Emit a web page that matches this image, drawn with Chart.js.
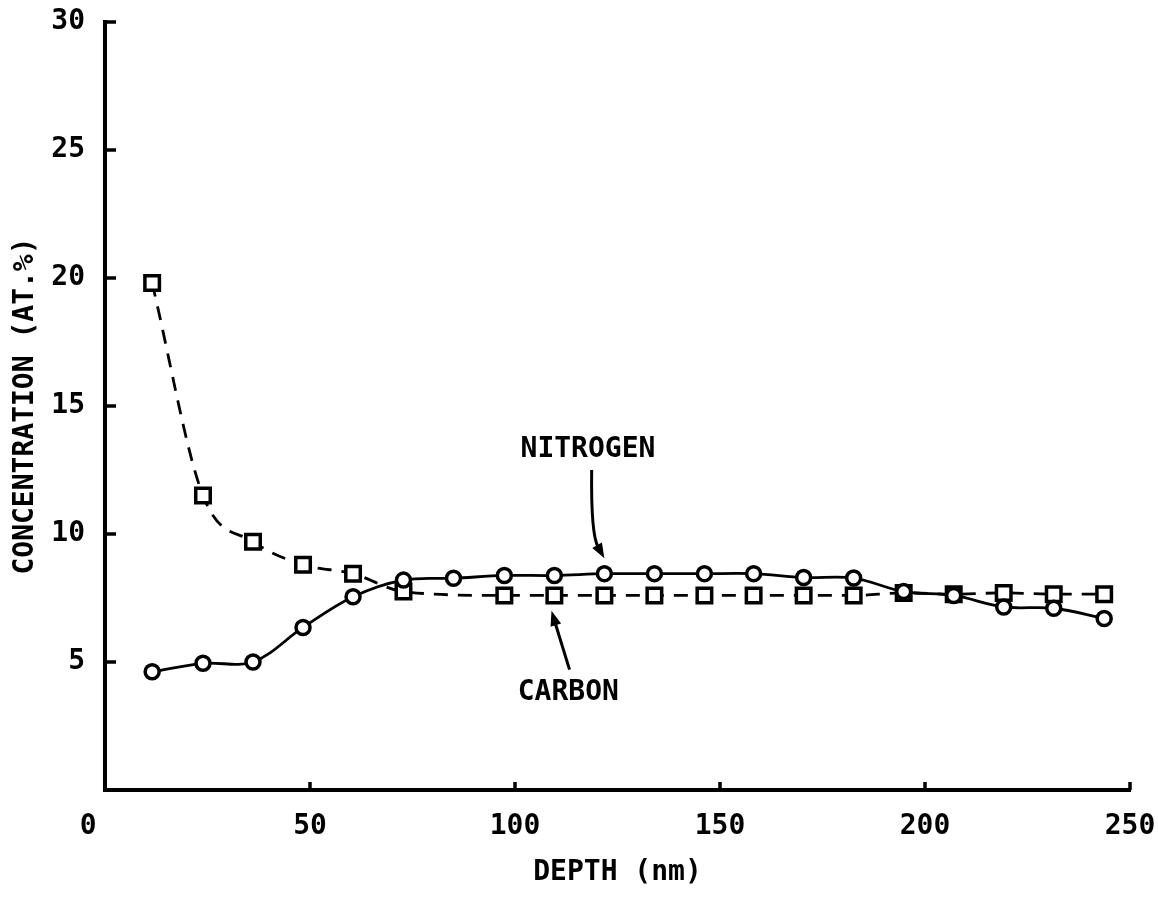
<!DOCTYPE html>
<html>
<head>
<meta charset="utf-8">
<title>Concentration vs depth</title>
<script src="https://cdn.jsdelivr.net/npm/chart.js@4.4.1/dist/chart.umd.min.js"></script>
<style>
  html, body { margin: 0; padding: 0; background: #fff; }
  canvas { display: block; }
</style>
</head>
<body>
<canvas id="profile" width="1158" height="911" style="width:1158px;height:911px"></canvas>
<script>
// Depth profile: sputter depth (nm) against atomic concentration (at.%)
const depth    = [11.5, 23.9, 36.1, 48.3, 60.5, 72.8, 85.0, 97.4, 109.6, 121.8,
                  134.0, 146.2, 158.2, 170.4, 182.6, 194.8, 207.0, 219.2, 231.4, 243.7];
const carbon   = [19.8, 11.5, 9.7, 8.8, 8.45, 7.75, null, 7.6, 7.6, 7.6,
                  7.6, 7.6, 7.6, 7.6, 7.6, 7.7, 7.65, 7.7, 7.65, 7.65];
const nitrogen = [4.62, 4.95, 5.0, 6.35, 7.55, 8.2, 8.27, 8.38, 8.38, 8.45,
                  8.45, 8.45, 8.45, 8.3, 8.28, 7.75, 7.6, 7.15, 7.1, 6.7];

const xTicks = [0, 50, 100, 150, 200, 250];
const yTicks = [5, 10, 15, 20, 25, 30];

const xTitle = 'DEPTH (nm)';
const yTitle = 'CONCENTRATION (AT.%)';

// Labelled arrows, placed in data units (depth, at.%)
const callouts = [
  { text: 'NITROGEN', at: [117.8, 13.3], tail: [118.7, 12.5], bend: [118.5, 10.0], tip: [121.8, 9.05] },
  { text: 'CARBON',   at: [113.0, 3.8],  tail: [113.3, 4.7],  bend: [110.8, 6.0],  tip: [108.9, 7.0] }
];

const INK = '#000';
const FONT_FAMILY = '"DejaVu Sans Mono", "Liberation Mono", monospace';
const plotFont = { family: FONT_FAMILY, size: 28, weight: 'bold' };

const toPoints = (ys) => depth.map((d, i) => ({ x: d, y: ys[i] }));

// Short inward tick stubs on both axes
const tickStubs = {
  id: 'tickStubs',
  afterDraw(chart) {
    const { ctx, chartArea, scales: { x, y } } = chart;
    ctx.save();
    ctx.strokeStyle = INK;
    ctx.lineWidth = 3.5;
    ctx.lineCap = 'butt';
    yTicks.forEach(v => {
      const py = y.getPixelForValue(v);
      ctx.beginPath();
      ctx.moveTo(chartArea.left, py);
      ctx.lineTo(chartArea.left + 11, py);
      ctx.stroke();
    });
    xTicks.forEach(v => {
      if (v === 0) return;
      const px = x.getPixelForValue(v);
      ctx.beginPath();
      ctx.moveTo(px, chartArea.bottom);
      ctx.lineTo(px, chartArea.bottom - 8);
      ctx.stroke();
    });
    ctx.restore();
  }
};

// Series names with curved pointer arrows
const calloutLabels = {
  id: 'calloutLabels',
  afterDraw(chart) {
    const { ctx, scales: { x, y } } = chart;
    const P = ([a, b]) => [x.getPixelForValue(a), y.getPixelForValue(b)];
    ctx.save();
    ctx.fillStyle = INK;
    ctx.strokeStyle = INK;
    ctx.font = `bold 28px ${FONT_FAMILY}`;
    ctx.textAlign = 'center';
    ctx.textBaseline = 'middle';
    callouts.forEach(c => {
      const [lx, ly] = P(c.at);
      ctx.fillText(c.text, lx, ly);

      const [tx, ty] = P(c.tail);
      const [bx, by] = P(c.bend);
      const [hx, hy] = P(c.tip);
      let dx = hx - bx, dy = hy - by;
      const len = Math.hypot(dx, dy);
      dx /= len; dy /= len;
      const headLen = 15, headHalf = 5.5;
      const baseX = hx - dx * headLen, baseY = hy - dy * headLen;

      ctx.lineWidth = 3;
      ctx.beginPath();
      ctx.moveTo(tx, ty);
      ctx.quadraticCurveTo(bx, by, baseX + dx * 2, baseY + dy * 2);
      ctx.stroke();

      ctx.beginPath();
      ctx.moveTo(hx, hy);
      ctx.lineTo(baseX - dy * headHalf, baseY + dx * headHalf);
      ctx.lineTo(baseX + dy * headHalf, baseY - dx * headHalf);
      ctx.closePath();
      ctx.fill();
    });
    ctx.restore();
  }
};

new Chart(document.getElementById('profile'), {
  type: 'line',
  data: {
    datasets: [
      {
        label: 'NITROGEN',
        data: toPoints(nitrogen),
        borderColor: INK,
        borderWidth: 2.8,
        tension: 0.35,
        pointStyle: 'circle',
        pointRadius: 7,
        pointBorderWidth: 3.5,
        pointBorderColor: INK,
        pointBackgroundColor: '#fff',
        fill: false
      },
      {
        label: 'CARBON',
        data: toPoints(carbon),
        borderColor: INK,
        borderWidth: 2.8,
        borderDash: [14, 10],
        spanGaps: true,
        cubicInterpolationMode: 'monotone',
        pointStyle: 'rect',
        pointRadius: 10.25,
        pointBorderWidth: 3.5,
        pointBorderColor: INK,
        pointBackgroundColor: '#fff',
        fill: false
      }
    ]
  },
  options: {
    responsive: false,
    animation: false,
    events: [],
    layout: { padding: { left: 0, top: 22, right: 28, bottom: 0 } },
    plugins: {
      legend: { display: false },
      tooltip: { enabled: false }
    },
    scales: {
      x: {
        type: 'linear',
        min: 0,
        max: 250,
        afterBuildTicks: s => { s.ticks = xTicks.map(v => ({ value: v })); },
        afterFit: s => { s.height = 121; s.paddingLeft = 0; s.paddingRight = 0; },
        grid: { display: false, drawTicks: false },
        border: { display: true, color: INK, width: 4 },
        // the origin label sits just left of the corner
        ticks: { color: INK, font: plotFont, padding: 20, maxRotation: 0, autoSkip: false,
                 callback: v => (v === 0 ? '0  ' : String(v)) },
        title: { display: true, text: xTitle, color: INK, font: plotFont, padding: { top: 0, bottom: 21 } }
      },
      y: {
        type: 'linear',
        min: 0,
        max: 30,
        afterBuildTicks: s => { s.ticks = yTicks.map(v => ({ value: v })); },
        afterFit: s => { s.width = 105; s.paddingTop = 0; s.paddingBottom = 0; },
        grid: { display: false, drawTicks: false },
        border: { display: true, color: INK, width: 4 },
        ticks: { color: INK, font: plotFont, padding: 20, autoSkip: false },
        title: { display: true, text: yTitle, color: INK, font: plotFont, padding: { top: 9, bottom: 0 } }
      }
    }
  },
  plugins: [tickStubs, calloutLabels]
});
</script>
</body>
</html>
